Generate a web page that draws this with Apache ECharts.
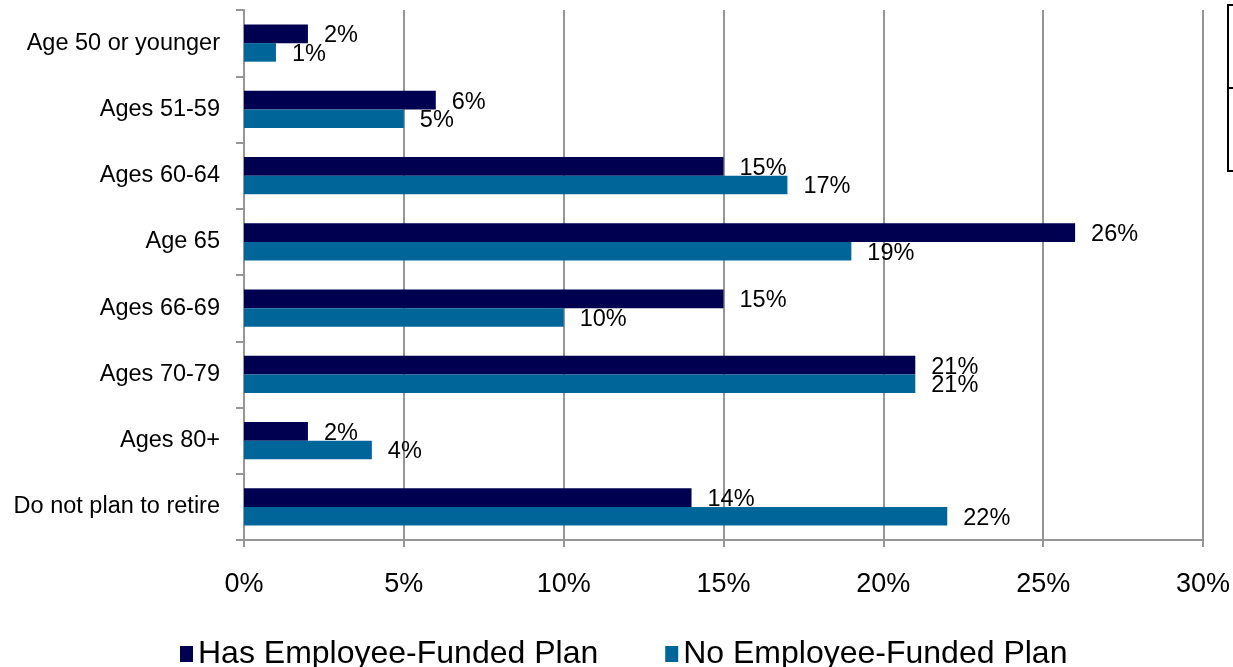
<!DOCTYPE html>
<html>
<head>
<meta charset="utf-8">
<script src="https://cdn.jsdelivr.net/npm/echarts@6/dist/echarts.min.js"></script>
<style>
html,body{margin:0;padding:0;background:#fff;}
#chart{width:1233px;height:667px;}
</style>
</head>
<body>
<div id="chart"></div>
<script>
const categories = ["Age 50 or younger","Ages 51-59","Ages 60-64","Age 65","Ages 66-69","Ages 70-79","Ages 80+","Do not plan to retire"];
const hasPlan = [2,6,15,26,15,21,2,14];
const noPlan = [1,5,17,19,10,21,4,22];
const seriesNames = ["Has Employee-Funded Plan","No Employee-Funded Plan"];
const xTicks = {min:0,max:30,interval:5};

const FONT = '"Liberation Sans", Arial, sans-serif';
const chart = echarts.init(document.getElementById('chart'));
const labelCfg = {show:true, position:'right', distance:16, offset:[0,2], color:'#000', fontFamily:FONT, fontSize:23.5, formatter:'{c}%'};
chart.setOption({
  animation:false,
  backgroundColor:'#fff',
  grid:{left:244, right:30, top:10, bottom:127, containLabel:false},
  xAxis:{
    type:'value', min:xTicks.min, max:xTicks.max, interval:xTicks.interval,
    axisLine:{show:true, lineStyle:{color:'#969696', width:2}},
    axisTick:{show:true, length:7, lineStyle:{color:'#969696', width:2}},
    splitLine:{show:true, lineStyle:{color:'#969696', width:2}},
    axisLabel:{formatter:'{value}%', color:'#000', fontFamily:FONT, fontSize:27, margin:31}
  },
  yAxis:{
    type:'category', data:categories, inverse:true,
    axisLine:{show:true, lineStyle:{color:'#969696', width:2}},
    axisTick:{show:true, length:8, lineStyle:{color:'#969696', width:2}},
    axisLabel:{color:'#000', fontFamily:FONT, fontSize:23.5, margin:24}
  },
  legend:{
    data:seriesNames, left:180, top:638, padding:0,
    itemWidth:13, itemHeight:16, itemGap:67,
    icon:'rect',
    textStyle:{color:'#000', fontFamily:FONT, fontSize:32}
  },
  series:[
    {name:seriesNames[0], type:'bar', data:hasPlan, barGap:'0%', barCategoryGap:'44%',
     itemStyle:{color:'#000050'}, label:labelCfg},
    {name:seriesNames[1], type:'bar', data:noPlan, barGap:'0%', barCategoryGap:'44%',
     itemStyle:{color:'#006699'}, label:labelCfg}
  ],
  graphic:[
    {type:'polyline', shape:{points:[[1233,5],[1228,5],[1228,171],[1233,171]]}, style:{stroke:'#000', lineWidth:2, fill:null}},
    {type:'line', shape:{x1:1228,y1:88,x2:1233,y2:88}, style:{stroke:'#000', lineWidth:2}}
  ]
});
</script>
</body>
</html>
